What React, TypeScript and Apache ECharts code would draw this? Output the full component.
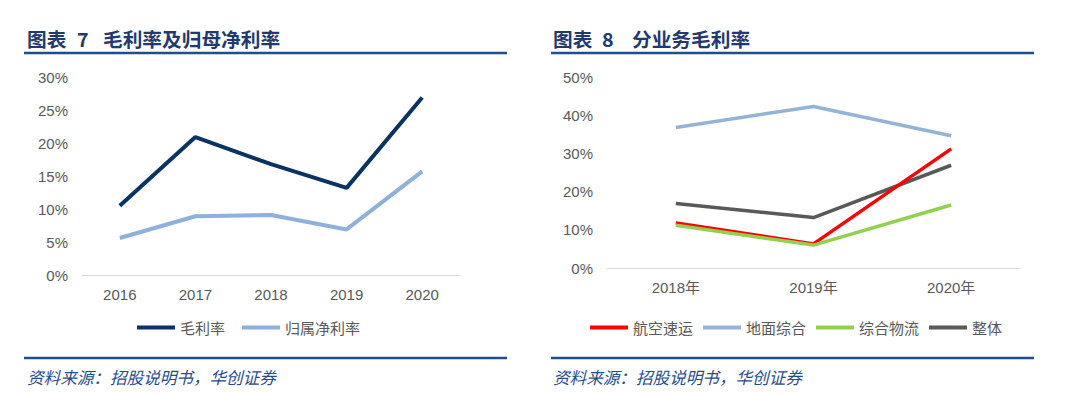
import React, { useEffect, useRef } from "react";
import * as echarts from "echarts";

const leftYears = ["2016", "2017", "2018", "2019", "2020"];
const grossMargin = [10.5, 20.9, 16.8, 13.2, 26.9];
const netMargin = [5.6, 8.9, 9.1, 6.9, 15.7];

const rightYears = ["2018年", "2019年", "2020年"];
const airExpress = [11.8, 6.3, 31.2];
const groundIntegrated = [36.8, 42.3, 34.6];
const integratedLogistics = [11.2, 6.0, 16.5];
const overall = [16.9, 13.2, 26.9];

const leftTicks = [0, 5, 10, 15, 20, 25, 30];
const rightTicks = [0, 10, 20, 30, 40, 50];

const TITLE_COLOR = "#1F3A6E";
const RULE_COLOR = "#1F4E8C";
const TEXT_COLOR = "#595959";
const NUM_FONT = "'Liberation Sans', Arial, 'Noto Sans CJK SC', sans-serif";
const CJK_FONT = "'Noto Sans CJK SC', sans-serif";

export default function App() {
  const ref = useRef<HTMLDivElement>(null);
  useEffect(() => {
    if (!ref.current) return;
    const chart = echarts.init(ref.current, null, { renderer: "svg" });
    const axisLabel = { color: TEXT_COLOR, fontSize: 15, fontFamily: NUM_FONT };
    const titleText = (x: number, text: string) => ({
      type: "text",
      x,
      y: 38,
      style: { text, fill: TITLE_COLOR, font: `bold 19.7px ${CJK_FONT}`, textVerticalAlign: "middle" },
    });
    const rule = (x1: number, x2: number, y: number) => ({
      type: "line",
      shape: { x1, y1: y, x2, y2: y },
      style: { stroke: RULE_COLOR, lineWidth: 2.5 },
    });
    const source = (x: number) => ({
      type: "text",
      x,
      y: 377,
      style: { text: "资料来源：招股说明书，华创证券", fill: RULE_COLOR, font: `italic 16.6px ${CJK_FONT}`, textVerticalAlign: "middle" },
    });
    chart.setOption({
      animation: false,
      graphic: [
        titleText(27, "图表"),
        titleText(77, "7"),
        titleText(103, "毛利率及归母净利率"),
        titleText(553, "图表"),
        titleText(602, "8"),
        titleText(632, "分业务毛利率"),
        rule(24, 507, 53),
        rule(551, 1034, 53),
        rule(24, 507, 358),
        rule(551, 1034, 358),
        source(27),
        source(553),
      ],
      legend: [
        {
          data: ["毛利率", "归属净利率"],
          left: 137,
          top: 320,
          padding: 0,
          icon: "rect",
          itemWidth: 38,
          itemHeight: 4,
          itemGap: 17,
          selectedMode: false,
          textStyle: { color: TEXT_COLOR, fontSize: 15, fontFamily: CJK_FONT },
        },
        {
          data: ["航空速运", "地面综合", "综合物流", "整体"],
          left: 590,
          top: 320,
          padding: 0,
          icon: "rect",
          itemWidth: 38,
          itemHeight: 4,
          itemGap: 10,
          selectedMode: false,
          textStyle: { color: TEXT_COLOR, fontSize: 15, fontFamily: CJK_FONT },
        },
      ],
      grid: [
        { left: 82, top: 77, width: 378, height: 198 },
        { left: 607, top: 77, width: 413, height: 191 },
      ],
      xAxis: [
        {
          type: "category",
          gridIndex: 0,
          data: leftYears,
          boundaryGap: true,
          axisLine: { lineStyle: { color: "#D9D9D9" } },
          axisTick: { show: false },
          axisLabel: { ...axisLabel, margin: 12 },
        },
        {
          type: "category",
          gridIndex: 1,
          data: rightYears,
          boundaryGap: true,
          axisLine: { lineStyle: { color: "#D9D9D9" } },
          axisTick: { show: false },
          axisLabel: { ...axisLabel, margin: 12 },
        },
      ],
      yAxis: [
        {
          type: "value",
          gridIndex: 0,
          min: leftTicks[0],
          max: leftTicks[leftTicks.length - 1],
          interval: 5,
          splitLine: { show: false },
          axisLine: { show: false },
          axisTick: { show: false },
          axisLabel: { ...axisLabel, margin: 14, formatter: "{value}%" },
        },
        {
          type: "value",
          gridIndex: 1,
          min: rightTicks[0],
          max: rightTicks[rightTicks.length - 1],
          interval: 10,
          splitLine: { show: false },
          axisLine: { show: false },
          axisTick: { show: false },
          axisLabel: { ...axisLabel, margin: 14, formatter: "{value}%" },
        },
      ],
      series: [
        { name: "毛利率", type: "line", xAxisIndex: 0, yAxisIndex: 0, data: grossMargin, symbol: "none", color: "#0B3361", lineStyle: { width: 4, color: "#0B3361" } },
        { name: "归属净利率", type: "line", xAxisIndex: 0, yAxisIndex: 0, data: netMargin, symbol: "none", color: "#8EB0DA", lineStyle: { width: 4, color: "#8EB0DA" } },
        { name: "地面综合", type: "line", xAxisIndex: 1, yAxisIndex: 1, data: groundIntegrated, symbol: "none", color: "#95B3D7", lineStyle: { width: 3.5, color: "#95B3D7" } },
        { name: "整体", type: "line", xAxisIndex: 1, yAxisIndex: 1, data: overall, symbol: "none", color: "#595959", lineStyle: { width: 3.5, color: "#595959" } },
        { name: "航空速运", type: "line", xAxisIndex: 1, yAxisIndex: 1, data: airExpress, symbol: "none", color: "#FF0000", lineStyle: { width: 3.5, color: "#FF0000" } },
        { name: "综合物流", type: "line", xAxisIndex: 1, yAxisIndex: 1, data: integratedLogistics, symbol: "none", color: "#92D050", lineStyle: { width: 3.5, color: "#92D050" } },
      ],
    });
    return () => chart.dispose();
  }, []);
  return (
    <div
      ref={ref}
      style={{ position: "fixed", left: 0, top: 0, width: 1080, height: 394, background: "#fff" }}
    />
  );
}
